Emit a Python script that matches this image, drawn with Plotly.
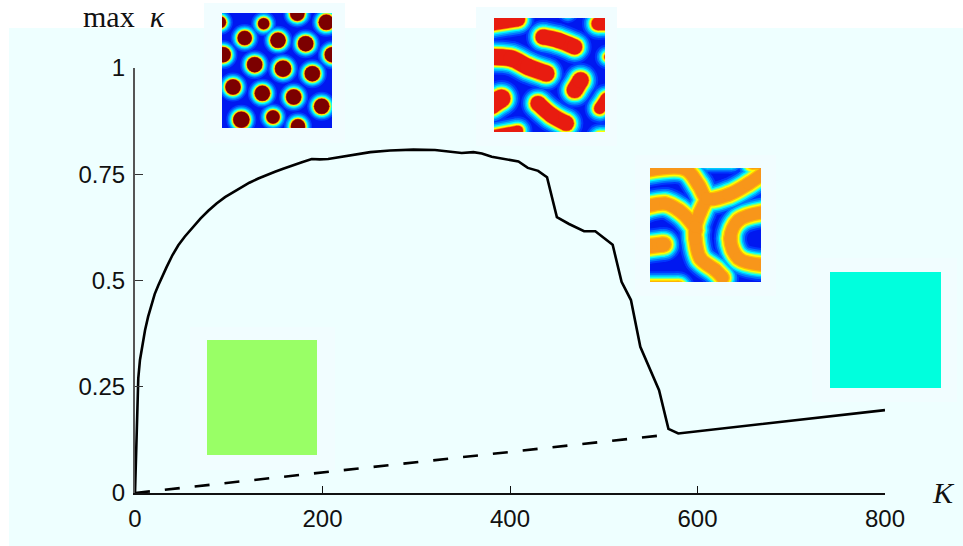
import plotly.graph_objects as go

# ---- main curve ----
K_solid = [0, 3.5, 5.3, 7.5, 10.7, 14, 17.8, 21, 24.9, 29, 33.8, 40, 46.2, 53, 60.5, 70, 78.2, 87, 96, 105, 113.8, 122, 131.5, 140, 149.3, 158, 167.1, 178, 188.5,
           197, 206, 229, 251, 272, 297, 320, 348.5, 361, 370, 380.5, 409, 419, 430, 439.5, 450, 463,
           479, 491, 509.5, 519, 529, 539, 559, 569, 579.5, 800]
kappa_solid = [0, 0.27, 0.313, 0.345, 0.383, 0.415, 0.446, 0.468, 0.489, 0.510, 0.532, 0.560, 0.583, 0.603, 0.623, 0.646, 0.664, 0.681, 0.696, 0.708, 0.719, 0.730, 0.740, 0.748, 0.756, 0.763, 0.769, 0.778, 0.786,
               0.785, 0.786, 0.795, 0.802, 0.806, 0.808, 0.807, 0.800, 0.802, 0.799, 0.791, 0.780, 0.765, 0.758, 0.743, 0.649, 0.633,
               0.616, 0.616, 0.584, 0.497, 0.454, 0.344, 0.242, 0.151, 0.140, 0.195]
K_dashed = [0, 563]
kappa_dashed = [0, 0.136]
x_ticks = [0, 200, 400, 600, 800]
y_ticks = [0, 0.25, 0.5, 0.75, 1]
y_tick_labels = ["0", "0.25", "0.5", "0.75", "1"]

# ---- inset 1: spots (centre x, centre y, dark-red diameter) ----
spot_x = [293, 192, 380, 62, 135, 235, 318, 70, 398, 165, 250, 338, 100, 188, 282, 366, 125, 220, 295]
spot_y = [42, 72, 68, 68, 115, 122, 132, 165, 165, 195, 207, 222, 262, 281, 292, 320, 360, 352, 380]
spot_d = [14, 11, 15, 11, 14, 15, 15, 15, 15, 15, 16, 15, 15, 15, 15, 15, 16, 13, 14]

# ---- inset 2: blobs (centre lines, red width) ----
blob_paths = [
    ([50, 130], [55, 42]),
    ([205, 250, 300], [95, 105, 125]),
    ([50, 110, 160, 215], [155, 160, 185, 205]),
    ([370, 400], [55, 55]),
    ([398], [155]),
    ([300, 318], [255, 225]),
    ([80, 50], [280, 300]),
    ([190, 230, 275], [295, 330, 355]),
    ([375, 395], [310, 280]),
    ([50, 130], [392, 377]),
    ([375, 395], [397, 397]),
    ([280], [22]),
]
blob_w = [14, 15, 16, 13, 6, 16, 18, 15, 11, 10, 9, 2]

# ---- inset 3: ridges (centre lines, orange width) ----
ridge_paths = [
    ([30, 150, 190, 215, 280, 340, 390], [47, 42, 90, 130, 118, 85, 50]),
    ([30, 90, 130, 170, 182], [155, 145, 165, 205, 225]),
    ([215, 195, 180, 180, 195, 240, 262], [130, 170, 215, 250, 310, 345, 368]),
    ([390, 310, 285, 310, 390], [170, 195, 250, 310, 330]),
    ([30, 85], [275, 268]),
    ([30, 130], [397, 397]),
    ([215, 290], [20, 20]),
    ([350, 390], [25, 25]),
]
ridge_w = [12, 12, 12, 12, 14, 11, 2, 10]

blob_colors = ["#0038ff", "#0078ff", "#00b8ff", "#00ffff", "#80ff80", "#ffff00", "#ff9a00"]
blob_extra = [19, 15, 11.5, 8.5, 6, 4, 1.5]
ridge_colors = ["#0038ff", "#0078ff", "#00b8ff", "#00ffff", "#80ff80", "#ffff00", "#ffc000"]
ridge_extra = [21, 17, 13.5, 10.5, 8, 5.5, 2.5]

W, H = 963, 546
def fx(p): return p / W
def fy(p): return 1 - p / H
def rect(x0, y0, x1, y1, color):
    return dict(type="rect", xref="paper", yref="paper", x0=fx(x0), x1=fx(x1), y0=fy(y0), y1=fy(y1),
                fillcolor=color, line_width=0, layer="below")

fig = go.Figure()

def inset(n, box, xr, yr):
    fig.layout[f"xaxis{n}"] = dict(domain=[fx(box[0]), fx(box[2])], range=xr, visible=False, anchor=f"y{n}", fixedrange=True, automargin=False)
    fig.layout[f"yaxis{n}"] = dict(domain=[fy(box[3]), fy(box[1])], range=yr, visible=False, anchor=f"x{n}", fixedrange=True, automargin=False)

inset(2, (222, 13, 332, 128), [67, 397], [385, 40])
inset(3, (494, 18, 605, 132), [58, 391], [381, 38])
inset(4, (650, 168, 761, 282), [44, 377], [381, 38])

# spots
spot_layers = [(14, "#0040ff"), (11, "#0080ff"), (8.5, "#00b8ff"), (6.5, "#00ffff"), (4.6, "#80ff80"), (3, "#ffee00"), (1, "#e03000"), (0, "#7c0000")]
for extra, color in spot_layers:
    fig.add_trace(go.Scatter(x=spot_x, y=spot_y, mode="markers", xaxis="x2", yaxis="y2", hoverinfo="skip",
                             marker=dict(size=[d + extra for d in spot_d], color=color, line_width=0, opacity=1), showlegend=False))

def strokes(paths, widths, layers, axis):
    for extra, color in layers:
        for (px, py), w in zip(paths, widths):
            fig.add_trace(go.Scatter(x=px, y=py, mode="lines+markers", xaxis=f"x{axis}", yaxis=f"y{axis}", hoverinfo="skip",
                                     line=dict(color=color, width=w + extra, shape="spline", smoothing=1),
                                     marker=dict(size=w + extra, color=color, line_width=0, opacity=1), showlegend=False))

strokes(blob_paths, blob_w, list(zip(blob_extra, blob_colors)) + [(0, "#e81c10")], 3)
strokes(ridge_paths, ridge_w, list(zip(ridge_extra, ridge_colors)) + [(0, "#f8961a")], 4)

# main curve
fig.add_trace(go.Scatter(x=K_dashed, y=kappa_dashed, mode="lines", line=dict(color="black", width=2.6, dash="15px,15px"),
                         showlegend=False, cliponaxis=False, hoverinfo="skip"))
fig.add_trace(go.Scatter(x=K_solid, y=kappa_solid, mode="lines", line=dict(color="black", width=2.6),
                         showlegend=False, cliponaxis=False, hoverinfo="skip"))

tick_font = dict(family="Liberation Sans", size=24, color="#111111")
shapes = [
    rect(9, 28, 963, 546, "#eeffff"),
    rect(204, 3, 345, 143, "#f1fdff"),
    rect(476, 7, 617, 146, "#f1fdff"),
    rect(635, 155, 776, 296, "#f1fdff"),
    rect(190, 327, 335, 470, "#f1fdff"),
    rect(812, 258, 957, 402, "#f1fdff"),
    rect(222, 13, 332, 128, "#0018f0"),
    rect(494, 18, 605, 132, "#0018f0"),
    rect(650, 168, 761, 282, "#0018f0"),
    rect(207, 340, 317, 455, "#99ff66"),
    rect(830, 272, 941, 388, "#00ffdd"),
]
fig.update_layout(
    width=W, height=H, margin=dict(l=0, r=0, t=0, b=0, pad=0), autosize=False,
    paper_bgcolor="white", plot_bgcolor="rgba(0,0,0,0)", showlegend=False, shapes=shapes,
    xaxis=dict(domain=[fx(135), fx(885)], range=[0, 800], tickvals=x_ticks, ticks="inside", ticklen=7, tickwidth=1.2,
               tickcolor="#111111", showgrid=False, zeroline=False, showline=True, linecolor="#111111", linewidth=1.5,
               tickfont=tick_font, ticklabelstandoff=3, fixedrange=True, automargin=False),
    yaxis=dict(domain=[fy(493), fy(68)], range=[0, 1], tickvals=y_ticks, ticktext=y_tick_labels, ticks="inside", ticklen=8,
               tickwidth=1.2, tickcolor="#333333", showgrid=False, zeroline=False, showline=True, linecolor="#555555",
               linewidth=2, tickfont=tick_font, ticklabelstandoff=3, fixedrange=True, automargin=False),
    annotations=[
        dict(text="max  <i>κ</i>", x=fx(81), y=fy(35), xref="paper", yref="paper", xanchor="left", yanchor="bottom",
             showarrow=False, font=dict(family="Liberation Serif", size=30, color="#111111")),
        dict(text="<i>K</i>", x=fx(943), y=fy(492), xref="paper", yref="paper", xanchor="center", yanchor="middle",
             showarrow=False, font=dict(family="Liberation Serif", size=30, color="#111111")),
    ],
)
fig.write_html("out.html", config={"displayModeBar": False},
               post_script="document.body.style.margin='0';document.body.style.overflow='hidden';")
